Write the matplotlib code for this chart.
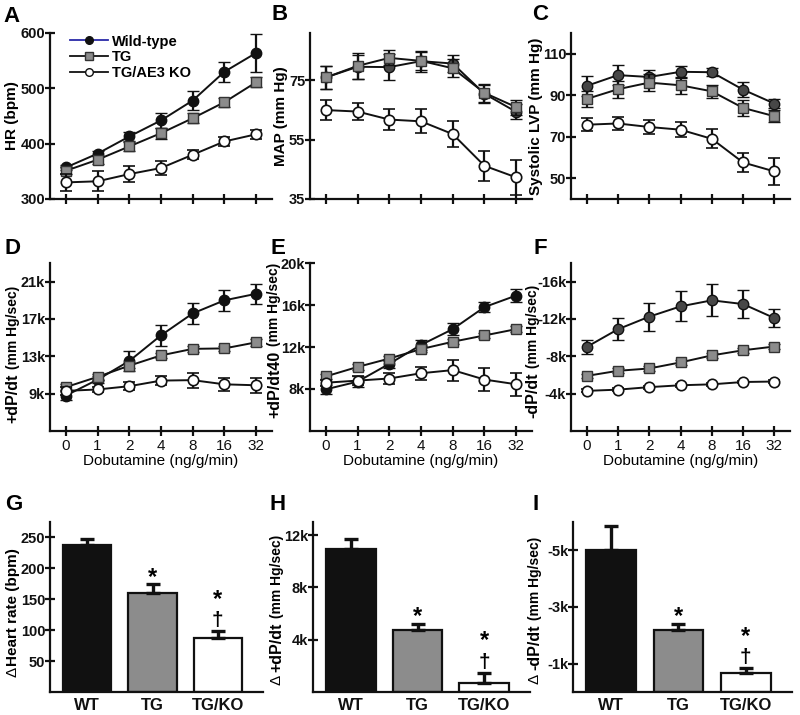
"""
dobutamine_panels.py · 9-panel hemodynamics figure (WT / TG / TG-AE3 KO)
"""
import matplotlib
matplotlib.use("Agg")
import matplotlib.pyplot as plt
from matplotlib.lines import Line2D
import numpy as np

plt.rcParams["font.family"] = ["Liberation Sans", "DejaVu Sans"]
plt.rcParams["font.weight"] = "bold"

# ============================================================
# data
# ============================================================
doses = ["0", "1", "2", "4", "8", "16", "32"]

# A  HR (bpm)
hr_wt = [357, 382, 413, 442, 478, 530, 564]
hr_wt_err = [4, 4, 8, 13, 18, 18, 34]
hr_tg = [351, 371, 395, 419, 446, 475, 511]
hr_tg_err = [6, 7, 8, 10, 9, 8, 9]
hr_ko = [330, 332, 345, 356, 380, 404, 417]
hr_ko_err = [16, 18, 15, 12, 8, 8, 8]

# B  MAP (mm Hg)
map_wt = [76.0, 79.6, 79.5, 81.5, 80.7, 70.5, 64.4]
map_wt_err = [4, 4, 4.5, 3.5, 3, 3, 2.5]
map_tg = [76.0, 79.9, 82.6, 81.6, 79.1, 70.8, 66.0]
map_tg_err = [4, 4.5, 2.5, 3, 3, 3, 2.5]
map_ko = [65.0, 64.5, 61.8, 61.2, 56.9, 46.2, 42.3]
map_ko_err = [3.5, 3, 3.5, 4, 4.5, 5, 6]

# C  Systolic LVP (mm Hg)
lvp_wt = [94.5, 99.7, 98.8, 101.3, 101.1, 92.7, 86.0]
lvp_wt_err = [5, 5, 3.5, 3, 2, 3.5, 2]
lvp_tg = [88.2, 92.9, 96.1, 94.8, 91.9, 83.9, 79.9]
lvp_tg_err = [4, 4, 4, 4, 3, 4, 3]
lvp_ko = [75.8, 76.4, 74.7, 73.4, 69.0, 57.6, 53.3]
lvp_ko_err = [3, 3, 3.5, 3.5, 4.5, 4.5, 6.5]

# D  +dP/dt (k mm Hg/sec)
dpp_wt = [8.8, 10.5, 12.5, 15.25, 17.6, 19.0, 19.7]
dpp_wt_err = [0.5, 0.4, 1.1, 1.1, 1.1, 1.1, 1.1]
dpp_tg = [9.7, 10.8, 12.0, 13.1, 13.8, 13.85, 14.5]
dpp_tg_err = [0.3, 0.3, 0.3, 0.3, 0.3, 0.3, 0.4]
dpp_ko = [9.3, 9.45, 9.8, 10.4, 10.45, 10.0, 9.9]
dpp_ko_err = [0.4, 0.3, 0.4, 0.5, 0.8, 0.7, 0.8]

# E  +dP/dt40 (k mm Hg/sec)
dp40_wt = [7.97, 8.7, 10.4, 12.2, 13.7, 15.8, 16.9]
dp40_wt_err = [0.4, 0.5, 0.4, 0.5, 0.6, 0.5, 0.6]
dp40_tg = [9.2, 10.1, 10.9, 11.8, 12.5, 13.1, 13.7]
dp40_tg_err = [0.25, 0.25, 0.25, 0.25, 0.25, 0.25, 0.3]
dp40_ko = [8.6, 8.8, 9.0, 9.5, 9.8, 8.9, 8.45]
dp40_ko_err = [0.3, 0.4, 0.5, 0.6, 1.0, 1.1, 1.1]

# F  -dP/dt (k mm Hg/sec, magnitude)
dpm_wt = [9.0, 10.9, 12.25, 13.35, 14.0, 13.6, 12.1]
dpm_wt_err = [0.8, 1.2, 1.5, 1.6, 1.7, 1.5, 1.0]
dpm_tg = [5.9, 6.45, 6.7, 7.35, 8.1, 8.65, 9.05]
dpm_tg_err = [0.25, 0.25, 0.25, 0.25, 0.25, 0.25, 0.3]
dpm_ko = [4.3, 4.43, 4.7, 4.9, 5.0, 5.25, 5.3]
dpm_ko_err = [0.15, 0.15, 0.15, 0.15, 0.15, 0.15, 0.15]

# G-I  bar panels
groups = ["WT", "TG", "TG/KO"]
d_hr = [238, 160, 87]
d_hr_err = [10, 14, 11]
d_dpp = [10.9, 4.75, 0.7]
d_dpp_err = [0.8, 0.45, 0.75]
d_dpm = [5.0, 2.2, 0.67]
d_dpm_err = [0.85, 0.2, 0.16]

# ============================================================
# styles
# ============================================================
BLACK = "#111111"
DARK = "#474747"
GRAY = "#8c8c8c"
EDGE = "#333333"

W, H = 800, 715


def axes_at(fig, x0, y0, x1, y1):
    """pixel box (top-left origin) -> axes"""
    return fig.add_axes([x0 / W, 1 - y1 / H, (x1 - x0) / W, (y1 - y0) / H])


def style_axes(ax):
    for s in ("top", "right"):
        ax.spines[s].set_visible(False)
    for s in ("left", "bottom"):
        ax.spines[s].set_linewidth(1.6)
        ax.spines[s].set_color(BLACK)
    ax.tick_params(axis="both", direction="inout", length=7, width=1.6,
                   colors=BLACK)
    ax.tick_params(axis="y", pad=0, labelsize=10.5)


def k_fmt(vals, neg=False):
    return [f"{'-' if neg else ''}{v}k" for v in vals]


def line_panel(ax, wt, wte, tg, tge, ko, koe, wt_color, show_x):
    x = np.arange(len(doses))
    common = dict(color=BLACK, lw=1.4, ms=7.5, capsize=4, capthick=1.6,
                  elinewidth=1.6, ecolor=BLACK)
    ax.errorbar(x, wt, yerr=wte, fmt="-o", mfc=wt_color, mec=BLACK, mew=1.0,
                zorder=3, **common)
    ax.errorbar(x, tg, yerr=tge, fmt="-s", mfc=GRAY, mec=EDGE, mew=1.0,
                zorder=4, **common)
    ax.errorbar(x, ko, yerr=koe, fmt="-o", mfc="white", mec=BLACK, mew=1.2,
                zorder=5, **common)
    ax.set_xlim(-0.5, 6.5)
    ax.set_xticks(x)
    style_axes(ax)
    if show_x:
        ax.set_xticklabels(doses, fontsize=11, fontweight="normal")
        ax.set_xlabel("Dobutamine (ng/g/min)", fontsize=11,
                      fontweight="normal", labelpad=1)
        ax.tick_params(axis="x", pad=2)
    else:
        ax.set_xticklabels([])


def chain_ylabel(ax, parts, x, y0):
    """rotated y label built from (text, size, weight) pieces, bottom-up"""
    prev = None
    for txt, size, weight in parts:
        if prev is None:
            prev = ax.text(x, y0, txt, transform=ax.transAxes, rotation=90,
                           ha="center", va="bottom", fontsize=size,
                           fontweight=weight)
        else:
            prev = ax.annotate(txt, xy=(0.5, 1.0), xycoords=prev,
                               rotation=90, ha="center", va="bottom",
                               fontsize=size, fontweight=weight)


def bar_panel(ax, vals, errs):
    x = np.arange(len(groups))
    ax.bar(x, vals, width=0.74, color=[BLACK, GRAY, "white"],
           edgecolor=BLACK, linewidth=1.6, zorder=2)
    ax.errorbar(x, vals, yerr=[np.zeros(3), errs], fmt="none", ecolor=BLACK,
                elinewidth=2.4, capsize=5, capthick=2.4, zorder=3)
    ax.set_xlim(-0.57, 2.69)
    ax.set_xticks(x)
    style_axes(ax)
    ax.set_xticklabels(groups, fontsize=12, fontweight="bold")
    ax.tick_params(axis="x", length=0, pad=4)
    top_tg = vals[1] + errs[1]
    top_ko = vals[2] + errs[2]
    ax.annotate("*", xy=(1, top_tg), xytext=(0, -3), textcoords="offset points",
                ha="center", va="bottom", fontsize=17, fontweight="bold")
    ax.annotate("\u2020", xy=(2, top_ko), xytext=(0, 1),
                textcoords="offset points", ha="center", va="bottom",
                fontsize=15, fontweight="bold")
    ax.annotate("*", xy=(2, top_ko), xytext=(0, 15),
                textcoords="offset points", ha="center", va="bottom",
                fontsize=17, fontweight="bold")


fig = plt.figure(figsize=(8, 7.15), dpi=100)

col_x = [(50, 272), (310, 532), (571, 790)]
row1 = (33, 199)
row2 = (263, 431)
row3 = (522, 692)

# ---------------- row 1 ----------------
axA = axes_at(fig, col_x[0][0], row1[0], col_x[0][1], row1[1])
line_panel(axA, hr_wt, hr_wt_err, hr_tg, hr_tg_err, hr_ko, hr_ko_err,
           BLACK, False)
axA.set_ylim(300, 600)
axA.set_yticks([300, 400, 500, 600])
axA.set_ylabel("HR (bpm)", fontsize=11, fontweight="bold", labelpad=1)
handles = [
    Line2D([], [], color="#2a2aa8", lw=1.3, marker="o", ms=5.5, mfc=BLACK,
           mec=BLACK),
    Line2D([], [], color=BLACK, lw=1.3, marker="s", ms=5.5, mfc=GRAY,
           mec=EDGE),
    Line2D([], [], color=BLACK, lw=1.3, marker="o", ms=5.5, mfc="white",
           mec=BLACK),
]
axA.legend(handles, ["Wild-type", "TG", "TG/AE3 KO"], loc="upper left",
           bbox_to_anchor=(0.03, 1.07), frameon=False, handlelength=2.6,
           handletextpad=0.3, labelspacing=0.12, prop={"size": 10.5,
                                                        "weight": "bold"})

axB = axes_at(fig, col_x[1][0], row1[0], col_x[1][1], row1[1])
line_panel(axB, map_wt, map_wt_err, map_tg, map_tg_err, map_ko, map_ko_err,
           DARK, False)
axB.set_ylim(35, 91)
axB.set_yticks([35, 55, 75])
axB.set_ylabel("MAP (mm Hg)", fontsize=11, fontweight="bold", labelpad=1)

axC = axes_at(fig, col_x[2][0], row1[0], col_x[2][1], row1[1])
line_panel(axC, lvp_wt, lvp_wt_err, lvp_tg, lvp_tg_err, lvp_ko, lvp_ko_err,
           DARK, False)
axC.set_ylim(40, 120)
axC.set_yticks([50, 70, 90, 110])
axC.set_ylabel("Systolic LVP (mm Hg)", fontsize=11, fontweight="bold",
               labelpad=0)

# ---------------- row 2 ----------------
axD = axes_at(fig, col_x[0][0], row2[0], col_x[0][1], row2[1])
line_panel(axD, dpp_wt, dpp_wt_err, dpp_tg, dpp_tg_err, dpp_ko, dpp_ko_err,
           BLACK, True)
axD.set_ylim(5, 23)
axD.set_yticks([9, 13, 17, 21])
axD.set_yticklabels(k_fmt([9, 13, 17, 21]))
chain_ylabel(axD, [("+dP/dt", 11.5, "bold"), (" (mm Hg/sec)", 10, "bold")],
             x=-0.165, y0=0.05)

axE = axes_at(fig, col_x[1][0], row2[0], col_x[1][1], row2[1])
line_panel(axE, dp40_wt, dp40_wt_err, dp40_tg, dp40_tg_err, dp40_ko,
           dp40_ko_err, BLACK, True)
axE.set_ylim(4, 20)
axE.set_yticks([8, 12, 16, 20])
axE.set_yticklabels(k_fmt([8, 12, 16, 20]))
chain_ylabel(axE, [("+dP/dt40", 11.5, "bold"), (" (mm Hg/sec)", 10, "bold")],
             x=-0.16, y0=0.08)

axF = axes_at(fig, col_x[2][0], row2[0], col_x[2][1], row2[1])
line_panel(axF, dpm_wt, dpm_wt_err, dpm_tg, dpm_tg_err, dpm_ko, dpm_ko_err,
           DARK, True)
axF.set_ylim(0, 18)
axF.set_yticks([4, 8, 12, 16])
axF.set_yticklabels(k_fmt([4, 8, 12, 16], neg=True))
chain_ylabel(axF, [("-dP/dt", 11.5, "bold"), (" (mm Hg/sec)", 10, "bold")],
             x=-0.175, y0=0.08)

# ---------------- row 3 ----------------
axG = axes_at(fig, col_x[0][0], row3[0], col_x[0][1] - 9, row3[1])
bar_panel(axG, d_hr, d_hr_err)
axG.set_ylim(0, 275)
axG.set_yticks([50, 100, 150, 200, 250])
chain_ylabel(axG, [("\u0394", 11, "normal"),
                   ("Heart rate (bpm)", 11, "bold")], x=-0.175, y0=0.09)

axH = axes_at(fig, col_x[1][0] + 3, row3[0], col_x[1][1] - 2, row3[1])
bar_panel(axH, d_dpp, d_dpp_err)
axH.set_ylim(0, 13)
axH.set_yticks([4, 8, 12])
axH.set_yticklabels(k_fmt([4, 8, 12]))
chain_ylabel(axH, [("\u0394 ", 11, "normal"), ("+dP/dt", 11.5, "bold"),
                   (" (mm Hg/sec)", 10, "bold")], x=-0.165, y0=0.04)

axI = axes_at(fig, col_x[2][0] + 2, row3[0], col_x[2][1] + 2, row3[1])
bar_panel(axI, d_dpm, d_dpm_err)
axI.set_ylim(0, 6)
axI.set_yticks([1, 3, 5])
axI.set_yticklabels(k_fmt([1, 3, 5], neg=True))
chain_ylabel(axI, [("\u0394 ", 11, "normal"), ("-dP/dt", 11.5, "bold"),
                   (" (mm Hg/sec)", 10, "bold")], x=-0.175, y0=0.05)

# panel letters
letters = [("A", 12, 17), ("B", 280, 15), ("C", 540, 15),
           ("D", 12, 248), ("E", 278, 248), ("F", 540, 248),
           ("G", 14, 505), ("H", 278, 505), ("I", 536, 505)]
for s, px, py in letters:
    fig.text(px / W, 1 - py / H, s, fontsize=16, fontweight="bold",
             ha="center", va="center")

fig.savefig("out.png", dpi=100)
